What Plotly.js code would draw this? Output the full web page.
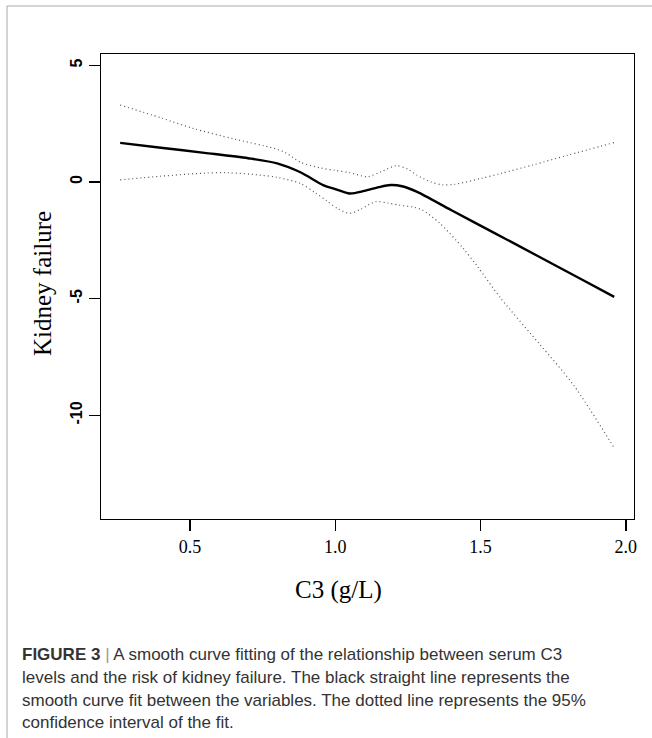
<!DOCTYPE html>
<html>
<head>
<meta charset="utf-8">
<script src="https://cdn.plot.ly/plotly-3.0.1.min.js"></script>
<style>
html,body{margin:0;padding:0;background:#fff;}
#chart{width:652px;height:738px;}
</style>
</head>
<body>
<div id="chart"></div>
<script>
// Smooth curve fit
const fitX = [0.26, 0.40, 0.55, 0.70, 0.80, 0.88, 0.96, 1.00, 1.05, 1.10, 1.15, 1.19, 1.23, 1.28, 1.40, 1.55, 1.70, 1.85, 1.96];
const fitY = [1.68, 1.47, 1.25, 1.02, 0.80, 0.42, -0.14, -0.30, -0.49, -0.38, -0.22, -0.13, -0.18, -0.41, -1.21, -2.20, -3.19, -4.19, -4.92];
// Upper 95% CI
const upX = [0.26, 0.40, 0.51, 0.65, 0.79, 0.83, 0.88, 0.95, 1.00, 1.05, 1.11, 1.16, 1.21, 1.25, 1.28, 1.33, 1.37, 1.41, 1.50, 1.57, 1.68, 1.80, 1.96];
const upY = [3.30, 2.75, 2.30, 1.85, 1.44, 1.25, 0.85, 0.60, 0.50, 0.40, 0.23, 0.45, 0.70, 0.55, 0.30, 0.00, -0.12, -0.10, 0.15, 0.37, 0.73, 1.15, 1.69];
// Lower 95% CI
const loX = [0.26, 0.40, 0.55, 0.63, 0.74, 0.80, 0.88, 0.93, 0.97, 1.01, 1.05, 1.09, 1.14, 1.18, 1.22, 1.27, 1.30, 1.36, 1.44, 1.49, 1.57, 1.70, 1.82, 1.96];
const loY = [0.09, 0.25, 0.38, 0.40, 0.30, 0.20, -0.06, -0.45, -0.80, -1.15, -1.34, -1.15, -0.84, -0.90, -0.99, -1.08, -1.20, -1.77, -2.84, -3.63, -4.99, -6.90, -8.70, -11.40];

const xTicks = [0.5, 1.0, 1.5, 2.0];
const xTickText = ["0.5", "1.0", "1.5", "2.0"];
const yTicks = [-10, -5, 0, 5];
const yTickText = ["-10", "-5", "0", "5"];

const captionLines = [
  "<b>FIGURE 3</b> <span style='color:#999'>|</span> A smooth curve fitting of the relationship between serum C3",
  "levels and the risk of kidney failure. The black straight line represents the",
  "smooth curve fit between the variables. The dotted line represents the 95%",
  "confidence interval of the fit."
];

const W = 652, H = 738;
const L = 101, R = 634, T = 54, B = 519;
const pw = R - L, ph = B - T;
const px = v => (v - L) / pw;
const py = v => (B - v) / ph;

const traces = [
  {x: upX, y: upY, mode: 'lines', line: {color: '#555', width: 1.2, dash: '1px,3px', shape: 'spline', smoothing: 0.8}, hoverinfo: 'skip', showlegend: false},
  {x: loX, y: loY, mode: 'lines', line: {color: '#555', width: 1.2, dash: '1px,3px', shape: 'spline', smoothing: 0.8}, hoverinfo: 'skip', showlegend: false},
  {x: fitX, y: fitY, mode: 'lines', line: {color: '#000', width: 2.4, shape: 'spline', smoothing: 0.8}, hoverinfo: 'skip', showlegend: false}
];

const annotations = [
  {text: 'C3 (g/L)', xref: 'paper', yref: 'paper', x: px(338), y: py(590), xanchor: 'center', yanchor: 'middle', showarrow: false, font: {family: 'Liberation Serif, Times New Roman, serif', size: 25, color: '#000'}},
  {text: 'Kidney failure', xref: 'paper', yref: 'paper', x: px(42), y: py(284), xanchor: 'center', yanchor: 'middle', textangle: -90, showarrow: false, font: {family: 'Liberation Serif, Times New Roman, serif', size: 25, color: '#000'}}
];
const capY = [654, 677, 700, 722];
captionLines.forEach((t, i) => {
  annotations.push({text: t, xref: 'paper', yref: 'paper', x: px(20), y: py(capY[i]), xanchor: 'left', yanchor: 'middle', align: 'left', showarrow: false, font: {family: 'Liberation Sans, Arial, sans-serif', size: 17, color: '#333'}});
});

const frame = {color: '#aaa', width: 1};
const shapes = [
  {type: 'line', xref: 'paper', yref: 'paper', x0: px(7), x1: px(7), y0: py(740), y1: py(6), line: frame},
  {type: 'line', xref: 'paper', yref: 'paper', x0: px(7), x1: px(660), y0: py(6), y1: py(6), line: frame}
];

const layout = {
  width: W, height: H,
  margin: {l: L, r: W - R, t: T, b: H - B, pad: 0},
  paper_bgcolor: '#fff', plot_bgcolor: '#fff',
  showlegend: false,
  xaxis: {
    range: [0.194, 2.028], tickmode: 'array', tickvals: xTicks, ticktext: xTickText,
    ticks: 'outside', ticklen: 11, tickwidth: 1.3, tickcolor: '#000',
    showline: true, linecolor: '#000', linewidth: 1.3, mirror: true,
    showgrid: false, zeroline: false,
    tickfont: {family: 'Liberation Serif, Times New Roman, serif', size: 18, color: '#000'}
  },
  yaxis: {
    range: [-14.44, 5.486], tickmode: 'array', tickvals: yTicks, ticktext: yTickText,
    ticks: 'outside', ticklen: 11, tickwidth: 1.3, tickcolor: '#000', tickangle: -90,
    showline: true, linecolor: '#000', linewidth: 1.3, mirror: true,
    showgrid: false, zeroline: false,
    tickfont: {family: 'Liberation Sans, Arial, sans-serif', size: 16, color: '#000', weight: 'bold'}
  },
  annotations: annotations,
  shapes: shapes
};

Plotly.newPlot('chart', traces, layout, {staticPlot: true, displayModeBar: false});
</script>
</body>
</html>
